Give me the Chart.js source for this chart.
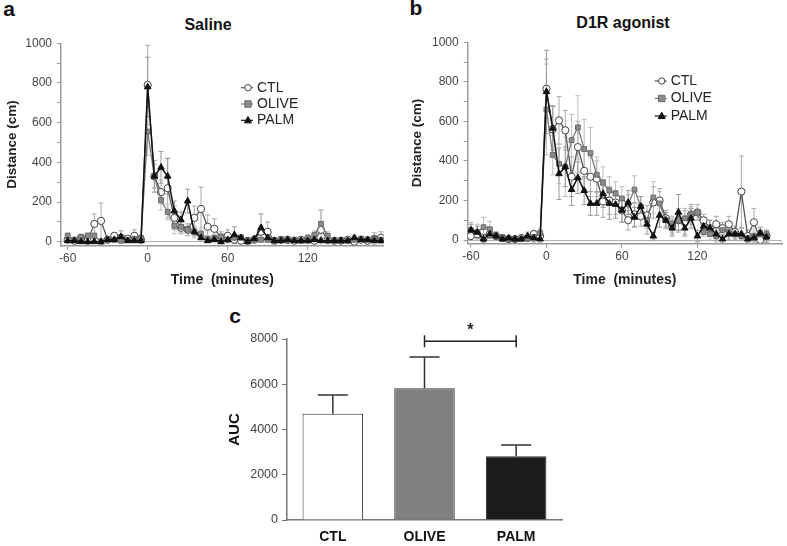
<!DOCTYPE html>
<html>
<head>
<meta charset="utf-8">
<script src="https://cdn.jsdelivr.net/npm/chart.js@4/dist/chart.umd.min.js"></script>
<style>
  body { margin: 0; background: #fff; width: 787px; height: 546px; position: relative; overflow: hidden; font-family: "Liberation Sans", Arial, sans-serif; }
  canvas { position: absolute; }
  .lbl { position: absolute; font-weight: bold; color: #111; line-height: 1; white-space: nowrap; transform: translate(-50%, -50%); }
</style>
</head>
<body>
<div class="lbl" style="left:9px;top:8px;font-size:21px">a</div>
<div class="lbl" style="left:416px;top:7px;font-size:21px">b</div>
<div class="lbl" style="left:235px;top:315px;font-size:21px">c</div>
<div class="lbl" style="left:208px;top:25px;font-size:16px">Saline</div>
<div class="lbl" style="left:623px;top:23px;font-size:16px">D1R agonist</div>

<canvas id="chartA" width="392" height="300" style="left:0;top:0"></canvas>
<canvas id="chartB" width="383" height="300" style="left:404px;top:0"></canvas>
<canvas id="chartC" width="400" height="246" style="left:200px;top:300px"></canvas>

<script>
// time points (minutes)
const times = [-60,-55,-50,-45,-40,-35,-30,-25,-20,-15,-10,-5,
  0,5,10,15,20,25,30,35,40,45,50,55,60,65,70,75,80,85,90,95,100,105,110,115,
  120,125,130,135,140,145,150,155,160,165,170,175];
const xTickVals = [-60, 0, 60, 120];
const yTickVals = [0, 200, 400, 600, 800, 1000];
const yMinorVals = [100, 300, 500, 700, 900];

// a: Saline
const salineCtl = [10,5,20,5,90,105,10,30,20,15,30,10,
  790,330,250,270,120,70,60,120,165,75,65,20,30,10,5,5,10,50,50,5,10,10,5,10,10,5,60,10,5,5,10,0,10,5,15,20];
const salineCtlErr = [10,10,15,10,50,90,10,15,15,10,30,10,
  200,60,60,150,60,30,30,60,110,60,50,30,30,20,10,10,10,30,50,10,10,10,10,10,10,10,100,20,10,10,10,10,10,10,30,30];
const salineOlive = [30,10,25,30,30,0,10,10,5,10,15,20,
  555,330,210,150,80,75,60,50,40,15,20,25,10,20,20,5,10,10,10,5,10,5,10,5,20,35,90,30,5,5,5,10,15,10,15,10];
const salineOliveErr = [15,10,10,15,15,10,10,10,5,10,10,10,
  120,60,50,40,40,30,30,30,30,15,15,15,15,15,15,10,10,10,10,10,10,10,10,10,15,20,70,20,10,10,10,10,10,15,15,15];
const salinePalm = [5,5,0,0,0,0,10,10,25,5,5,5,
  780,330,375,330,155,110,205,50,20,5,10,0,10,35,20,0,15,70,20,5,5,10,5,5,5,10,5,5,5,5,5,20,10,10,5,5];
const salinePalmErr = [5,5,5,5,5,5,10,10,30,10,10,10,
  150,80,80,90,50,40,60,20,10,10,10,10,10,40,15,10,10,70,20,10,10,10,10,10,10,10,10,10,10,10,10,10,10,10,10,10];

// b: D1R agonist
const d1rCtl = [20,30,10,30,20,10,5,5,10,10,30,20,
  765,560,605,555,320,470,350,320,310,195,200,190,150,100,130,120,125,190,200,110,70,100,90,130,140,100,60,80,60,80,40,245,20,90,0,20];
const d1rCtlErr = [20,20,20,20,20,10,10,10,10,10,20,20,
  150,120,120,100,100,130,100,100,90,80,70,60,60,50,60,50,50,80,60,40,40,60,60,50,40,30,40,40,30,40,30,180,30,70,20,30];
const d1rOlive = [50,40,65,55,20,15,5,5,5,10,15,35,
  660,430,385,370,505,570,460,440,330,290,250,235,210,180,255,170,100,215,185,100,80,100,110,130,140,40,30,20,50,40,30,20,10,20,35,30];
const d1rOliveErr = [40,40,50,40,20,10,10,10,10,10,20,20,
  230,100,100,150,130,160,150,130,90,80,70,60,60,50,70,50,40,80,60,40,40,50,50,40,40,20,30,30,30,30,20,20,20,20,20,20];
const d1rPalm = [50,40,5,30,20,5,10,5,5,20,10,5,
  750,565,335,370,255,315,250,185,185,235,185,180,150,190,115,170,80,20,125,100,60,140,60,110,20,70,60,30,5,30,30,30,5,10,35,15];
const d1rPalmErr = [30,30,20,20,20,10,10,10,10,20,20,20,
  210,110,130,100,80,80,70,60,60,70,80,70,60,60,50,50,50,20,60,40,40,90,40,50,30,40,40,30,20,30,30,30,20,20,30,30];

// c: AUC
const groups = ["CTL", "OLIVE", "PALM"];
const aucMean = [4700, 5820, 2820];
const aucSem = [830, 1380, 500];
const aucTicks = [0, 2000, 4000, 6000, 8000];
const sigPair = ["OLIVE", "PALM"];
const sigLevel = 7900;

Chart.defaults.font.family = '"Liberation Sans", Arial, sans-serif';

function drawMarker(ctx, style, x, y, r) {
  ctx.beginPath();
  if (style === "rect") {
    ctx.rect(x - r, y - r, 2 * r, 2 * r);
  } else if (style === "triangle") {
    ctx.moveTo(x, y - r * 1.2);
    ctx.lineTo(x + r * 1.1, y + r * 0.8);
    ctx.lineTo(x - r * 1.1, y + r * 0.8);
    ctx.closePath();
  } else {
    ctx.arc(x, y, r, 0, Math.PI * 2);
  }
  ctx.fill();
  ctx.stroke();
}

const errorBars = {
  id: "errorBars",
  beforeDatasetsDraw(chart) {
    const { ctx, chartArea, scales: { y } } = chart;
    ctx.save();
    ctx.beginPath();
    ctx.rect(chartArea.left, chartArea.top - 2, chartArea.width, chartArea.height + 2);
    ctx.clip();
    chart.data.datasets.forEach((ds, di) => {
      if (!ds.errors) return;
      const meta = chart.getDatasetMeta(di);
      ctx.strokeStyle = ds.errorColor;
      ctx.lineWidth = ds.errorWidth || 1;
      ds.data.forEach((p, i) => {
        const e = ds.errors[i];
        if (!e) return;
        const v = typeof p === "object" ? p.y : p;
        const px = meta.data[i].x;
        const hi = y.getPixelForValue(v + e);
        const lo = ds.errorUpOnly ? y.getPixelForValue(v) : y.getPixelForValue(v - e);
        const c = ds.capHalf;
        ctx.beginPath();
        ctx.moveTo(px, lo); ctx.lineTo(px, hi);
        ctx.moveTo(px - c, hi); ctx.lineTo(px + c, hi);
        if (!ds.errorUpOnly) { ctx.moveTo(px - c, lo); ctx.lineTo(px + c, lo); }
        ctx.stroke();
      });
    });
    ctx.restore();
  }
};

const lineLegend = {
  id: "lineLegend",
  afterDraw(chart, args, opts) {
    const ctx = chart.ctx;
    ctx.save();
    chart.data.datasets.forEach((ds, i) => {
      const cy = opts.y + i * opts.gap;
      ctx.strokeStyle = ds.borderColor;
      ctx.lineWidth = 1.2;
      ctx.beginPath();
      ctx.moveTo(opts.x - 7, cy); ctx.lineTo(opts.x + 5, cy);
      ctx.stroke();
      ctx.fillStyle = ds.pointBackgroundColor;
      ctx.strokeStyle = ds.pointBorderColor;
      ctx.lineWidth = 1;
      drawMarker(ctx, ds.pointStyle, opts.x, cy, 3.2);
      ctx.fillStyle = "#222";
      ctx.font = '14px "Liberation Sans", Arial, sans-serif';
      ctx.textBaseline = "middle";
      ctx.fillText(ds.label, opts.x + 9, cy);
    });
    ctx.restore();
  }
};

function lineSets(ctl, ctlErr, olive, oliveErr, palm, palmErr) {
  const pts = arr => arr.map((v, i) => ({ x: times[i], y: v }));
  return [
    { label: "CTL", data: pts(ctl), errors: ctlErr, errorColor: "#aaaaaa", capHalf: 2.5,
      borderColor: "#555", borderWidth: 1.3, pointStyle: "circle", pointRadius: 3.6,
      pointBackgroundColor: "#fff", pointBorderColor: "#444", pointBorderWidth: 1, order: 2 },
    { label: "OLIVE", data: pts(olive), errors: oliveErr, errorColor: "#bdbdbd", capHalf: 2.5,
      borderColor: "#777", borderWidth: 1.3, pointStyle: "rect", pointRadius: 3.4,
      pointBackgroundColor: "#8c8c8c", pointBorderColor: "#6a6a6a", pointBorderWidth: 1, order: 1 },
    { label: "PALM", data: pts(palm), errors: palmErr, errorColor: "#999999", capHalf: 2.5,
      borderColor: "#111", borderWidth: 1.5, pointStyle: "triangle", pointRadius: 3.8,
      pointBackgroundColor: "#111", pointBorderColor: "#111", pointBorderWidth: 1, order: 0 }
  ];
}

function lineOptions(cfg) {
  return {
    responsive: false,
    animation: false,
    events: [],
    layout: { padding: { top: cfg.top, right: cfg.right, bottom: 0, left: 0 } },
    plugins: { legend: { display: false }, tooltip: { enabled: false }, lineLegend: cfg.legend },
    elements: { line: { tension: 0 } },
    scales: {
      x: {
        type: "linear", min: cfg.xMin, max: cfg.xMax,
        afterFit: s => { s.height = cfg.xHeight; },
        afterBuildTicks: s => { s.ticks = xTickVals.map(v => ({ value: v })); },
        border: { color: "#9a9a9a", width: 1.5 },
        grid: { drawOnChartArea: false, tickLength: 4, color: "#9a9a9a" },
        ticks: { font: { size: 12 }, color: "#444", padding: 2, maxRotation: 0, autoSkip: false, callback: v => String(v) },
        title: { display: true, text: "Time  (minutes)", color: "#222", font: { size: 14, weight: "bold" }, padding: { top: 0, bottom: 11.6 } }
      },
      y: {
        min: cfg.yMin, max: 1000,
        afterFit: s => { s.width = cfg.yWidth; },
        afterBuildTicks: s => {
          s.ticks = yTickVals.concat(yMinorVals).sort((p, q) => p - q).map(v => ({ value: v }));
        },
        border: { color: "#9a9a9a", width: 1.5 },
        grid: {
          drawOnChartArea: true, tickLength: 4, tickColor: "#9a9a9a",
          color: c => (c.tick && c.tick.value === 0 ? "#b0b0b0" : "rgba(0,0,0,0)")
        },
        ticks: { font: { size: 12 }, color: "#444", padding: 5, autoSkip: false,
          callback: v => (yTickVals.includes(v) ? String(v) : "") },
        title: { display: true, text: "Distance (cm)", color: "#222", font: { size: 13.5, weight: "bold" }, padding: { top: cfg.yTitlePad } }
      }
    }
  };
}

new Chart(document.getElementById("chartA"), {
  type: "line",
  data: { datasets: lineSets(salineCtl, salineCtlErr, salineOlive, salineOliveErr, salinePalm, salinePalmErr) },
  options: lineOptions({ top: 43.3, right: 8.3, xMin: -65, xMax: 177, xHeight: 54.3, yMin: -20, yWidth: 61, yTitlePad: 4,
    legend: { x: 248, y: 87.7, gap: 16.3 } }),
  plugins: [errorBars, lineLegend]
});

new Chart(document.getElementById("chartB"), {
  type: "line",
  data: { datasets: lineSets(d1rCtl, d1rCtlErr, d1rOlive, d1rOliveErr, d1rPalm, d1rPalmErr) },
  options: lineOptions({ top: 42.3, right: 0, xMin: -62.6, xMax: 187.3, xHeight: 56.4, yMin: -18, yWidth: 63.7, yTitlePad: 4.9,
    legend: { x: 257.7, y: 81, gap: 17.5 } }),
  plugins: [errorBars, lineLegend]
});

const sigBracket = {
  id: "sigBracket",
  afterDatasetsDraw(chart) {
    const { ctx, scales: { x, y } } = chart;
    const x1 = x.getPixelForValue(groups.indexOf(sigPair[0]));
    const x2 = x.getPixelForValue(groups.indexOf(sigPair[1]));
    const yy = y.getPixelForValue(sigLevel);
    ctx.save();
    ctx.strokeStyle = "#222";
    ctx.lineWidth = 1.5;
    ctx.beginPath();
    ctx.moveTo(x1, yy); ctx.lineTo(x2, yy);
    ctx.moveTo(x1, yy - 6); ctx.lineTo(x1, yy + 6);
    ctx.moveTo(x2, yy - 6); ctx.lineTo(x2, yy + 6);
    ctx.stroke();
    ctx.fillStyle = "#222";
    ctx.font = 'bold 16px "Liberation Sans", Arial, sans-serif';
    ctx.textAlign = "center";
    ctx.textBaseline = "middle";
    ctx.fillText("*", (x1 + x2) / 2, yy - 11);
    ctx.restore();
  }
};

new Chart(document.getElementById("chartC"), {
  type: "bar",
  data: {
    labels: groups,
    datasets: [{
      data: aucMean, errors: aucSem, errorUpOnly: true, errorColor: "#333", errorWidth: 1.5, capHalf: 15,
      backgroundColor: ["#ffffff", "#808080", "#1c1c1c"], borderColor: "#333", borderWidth: 1,
      barPercentage: 0.66, categoryPercentage: 1
    }]
  },
  options: {
    responsive: false,
    animation: false,
    events: [],
    layout: { padding: { top: 39, right: 38, bottom: 0, left: 0 } },
    plugins: { legend: { display: false }, tooltip: { enabled: false } },
    scales: {
      x: {
        afterFit: s => { s.height = 26; },
        border: { color: "#777", width: 1.5 },
        grid: { display: false },
        ticks: { font: { size: 14, weight: "bold" }, color: "#111", padding: 1 }
      },
      y: {
        min: 0, max: 8000,
        afterFit: s => { s.width = 87; },
        afterBuildTicks: s => { s.ticks = aucTicks.map(v => ({ value: v })); },
        border: { color: "#777", width: 1.5 },
        grid: { drawOnChartArea: false, tickLength: 5, color: "#777" },
        ticks: { font: { size: 12.5 }, color: "#444", padding: 4, callback: v => String(v) },
        title: { display: true, text: "AUC", color: "#111", font: { size: 15, weight: "bold" }, padding: { top: 26 } }
      }
    }
  },
  plugins: [errorBars, sigBracket]
});
</script>
</body>
</html>
